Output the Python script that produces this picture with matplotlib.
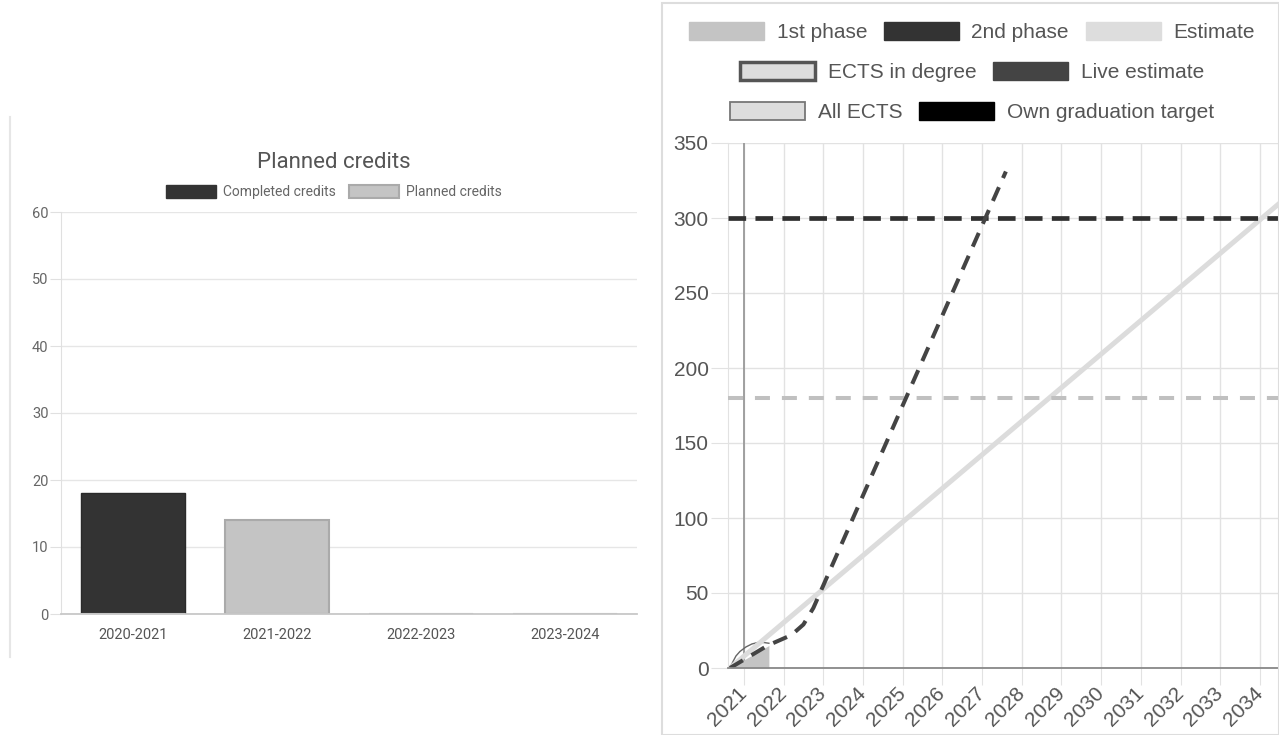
import matplotlib
matplotlib.use('Agg')
import matplotlib.pyplot as plt
from matplotlib.patches import Patch, Rectangle
from matplotlib.lines import Line2D

plt.rcParams['font.family'] = ['Liberation Sans', 'DejaVu Sans']
plt.rcParams['lines.scale_dashes'] = False

# ---------------- Left chart data ----------------
seasons = ['2020-2021', '2021-2022', '2022-2023', '2023-2024']
completed_credits = [18, 0, 0, 0]
planned_credits = [0, 14, 0, 0]
left_yticks = [0, 10, 20, 30, 40, 50, 60]
left_title = 'Planned credits'
left_legend_labels = ['Completed credits', 'Planned credits']

# ---------------- Right chart data ----------------
year_ticks = list(range(2021, 2035))
right_yticks = [0, 50, 100, 150, 200, 250, 300, 350]
first_phase_ects = 180
second_phase_ects = 300
estimate_x = [2020.65, 2034.5]
estimate_y = [0, 310]
live_x = [2020.65, 2021.6, 2022.2, 2022.5, 2022.75, 2027.6]
live_y = [0, 15, 22, 29, 40, 331]
ects_degree_x = [2020.65, 2021.63]
ects_degree_y = [0, 15]
all_ects_x = [2020.65, 2020.72, 2020.8, 2020.9, 2021.05, 2021.2, 2021.35, 2021.5, 2021.63]
all_ects_y = [0, 4, 8, 11, 14, 16, 17, 17, 16.5]
today_year = 2021.0
x_start, x_end = 2020.6, 2034.48
right_legend_rows = [
    ['1st phase', '2nd phase', 'Estimate'],
    ['ECTS in degree', 'Live estimate'],
    ['All ECTS', 'Own graduation target'],
]

W, H = 1279, 735
fig = plt.figure(figsize=(W / 100, H / 100), dpi=100)

# ---------------- Left bar chart ----------------
fig.add_artist(Line2D([10 / W, 10 / W], [1 - 117 / H, 1 - 657 / H],
                      transform=fig.transFigure, color='#e6e6e6', lw=1.5))

ax1 = fig.add_axes([61 / W, (H - 614) / H, 576 / W, 402 / H])
xpos = list(range(len(seasons)))
ax1.bar(xpos, completed_credits, width=0.72, color='#333333',
        edgecolor='#2a2a2a', lw=1, zorder=3)
ax1.bar(xpos, planned_credits, width=0.72,
        color='#c4c4c4', edgecolor='#aaaaaa', lw=1.5, zorder=3)
ax1.set_xlim(-0.5, len(seasons) - 0.5)
ax1.set_ylim(0, 60)
ax1.set_yticks(left_yticks)
ax1.set_xticks(xpos)
ax1.set_xticklabels(seasons)
ax1.grid(axis='y', color='#e6e6e6', lw=1)
ax1.set_axisbelow(True)
for s in ['top', 'right']:
    ax1.spines[s].set_visible(False)
ax1.spines['left'].set_color('#e0e0e0')
ax1.spines['bottom'].set_color('#c8c8c8')
ax1.spines['bottom'].set_linewidth(1.3)
ax1.spines['bottom'].set_zorder(4)
ax1.tick_params(axis='y', length=8, color='#e0e0e0', labelsize=10.5,
                labelcolor='#666666', pad=1)
ax1.tick_params(axis='x', length=0, labelsize=10.5, labelcolor='#555555', pad=10)
for t in ax1.get_xticklabels() + ax1.get_yticklabels():
    t.set_family(['Roboto', 'DejaVu Sans'])

fig.text(334 / W, 1 - 162 / H, left_title, fontsize=16, color='#555555',
         ha='center', va='center', family=['Roboto', 'DejaVu Sans'])
leg1 = fig.legend(handles=[Patch(fc='#333333', ec='#333333'),
                           Patch(fc='#c4c4c4', ec='#aaaaaa', lw=1.5)],
                  labels=left_legend_labels, loc='center',
                  bbox_to_anchor=(334 / W, 1 - 192 / H), ncol=2, frameon=False,
                  handlelength=3.6, handleheight=1.05,
                  handletextpad=0.55, columnspacing=0.9, borderpad=0,
                  prop={'family': ['Roboto', 'DejaVu Sans'], 'size': 10})
for t in leg1.get_texts():
    t.set_color('#666666')

# ---------------- Right line chart ----------------
fig.add_artist(Rectangle((662 / W, 0), (W - 662) / W, (H - 3) / H,
                         transform=fig.transFigure, fill=False,
                         ec='#dddddd', lw=1.5))

ax2 = fig.add_axes([728 / W, (H - 668) / H, (W - 728) / W, 525 / H])
ax2.set_xlim(x_start, x_end)
ax2.set_ylim(0, 350)
ax2.set_xticks(year_ticks)
ax2.set_yticks(right_yticks)
ax2.grid(color='#e2e2e2', lw=1)
ax2.set_axisbelow(True)
for s in ['top', 'right']:
    ax2.spines[s].set_visible(False)
ax2.spines['left'].set_color('#e2e2e2')
ax2.spines['bottom'].set_color('#888888')
ax2.spines['bottom'].set_linewidth(1.3)
ax2.spines['bottom'].set_zorder(6)
ax2.tick_params(axis='y', length=12, color='#e2e2e2', labelsize=15,
                labelcolor='#555555', pad=2)
ax2.tick_params(axis='x', length=12, color='#e2e2e2', labelsize=15,
                labelcolor='#555555', pad=4)
for t in ax2.get_xticklabels():
    t.set_rotation(45)
    t.set_ha('right')
    t.set_va('center')
    t.set_rotation_mode('anchor')

ax2.axvline(today_year, color='#999999', lw=1.3, zorder=1.5)
ax2.fill_between(ects_degree_x, ects_degree_y, 0, color='#c4c4c4', lw=0, zorder=2)
ax2.plot(all_ects_x, all_ects_y, color='#666666', lw=1, zorder=2.5)
ax2.plot(estimate_x, estimate_y, color='#dcdcdc', lw=3.6, zorder=3,
         solid_capstyle='butt')
ax2.axhline(first_phase_ects, color='#c0c0c0', lw=2.9,
            linestyle=(0, (10.8, 8.6)), zorder=3.5)
ax2.axhline(second_phase_ects, color='#303030', lw=3.4,
            linestyle=(0, (12.7, 6.7)), zorder=3.6)
ax2.plot(live_x, live_y, color='#444444', lw=2.9, linestyle=(0, (10.8, 7.2)),
         zorder=4)

handle_map = {
    '1st phase': Patch(fc='#c4c4c4', ec='#c4c4c4'),
    '2nd phase': Patch(fc='#333333', ec='#333333'),
    'Estimate': Patch(fc='#dddddd', ec='#dddddd'),
    'ECTS in degree': Patch(fc='#dddddd', ec='#555555', lw=2.5),
    'Live estimate': Patch(fc='#444444', ec='#444444'),
    'All ECTS': Patch(fc='#dddddd', ec='#777777', lw=1.3),
    'Own graduation target': Patch(fc='#000000', ec='#000000'),
}
row_y = [32, 72, 112]
for labels, yy in zip(right_legend_rows, row_y):
    lg = fig.legend(handles=[handle_map[l] for l in labels], labels=labels,
                    loc='center', bbox_to_anchor=(972 / W, 1 - yy / H),
                    ncol=len(labels), frameon=False, fontsize=15,
                    handlelength=3.6, handleheight=0.95, handletextpad=0.6,
                    columnspacing=0.8, borderpad=0)
    for t in lg.get_texts():
        t.set_color('#555555')

fig.savefig('out.png', dpi=100)
